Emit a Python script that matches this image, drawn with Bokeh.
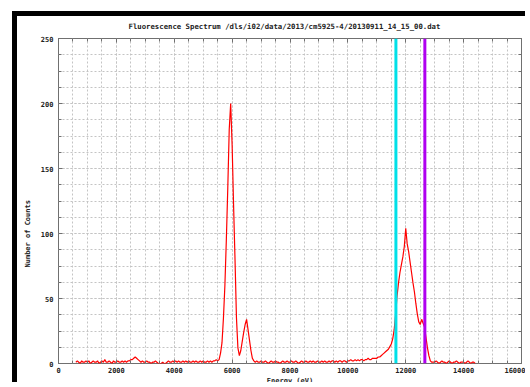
from bokeh.plotting import figure
from bokeh.models import Span, Title, LinearAxis, SingleIntervalTicker, Range1d
from bokeh.embed import file_html
from bokeh.resources import INLINE

TITLE = "Fluorescence Spectrum /dls/i02/data/2013/cm5925-4/20130911_14_15_00.dat"
X_LABEL = "Energy (eV)"
Y_LABEL = "Number of Counts"

# channel energies: start and step (eV)
ENERGY_START = 600
ENERGY_STEP = 50

# counts, one per channel
counts = [
    1, 2, 1, 0, 2, 1, 1, 2,                                              # 600-950
    1, 2, 0, 1, 2, 1, 1, 2, 0, 1, 2, 1, 3, 1, 1, 2, 1, 0, 2, 1,          # 1000-1950
    1, 2, 1, 1, 2, 1, 2, 1, 2, 2, 3, 3, 4, 5, 4, 3, 2, 1, 2, 1,          # 2000-2950
    1, 2, 1, 1, 0, 1, 1, 2, 1, 0, 0, 0, 1, 0, 0, 1, 2, 1, 1, 2,          # 3000-3950
    1, 2, 1, 2, 1, 1, 2, 1, 2, 1, 2, 1, 1, 2, 1, 2, 1, 1, 2, 1,          # 4000-4950
    2, 1, 1, 2, 1, 2, 1, 2, 2, 3,                                        # 5000-5450
    2, 3, 8, 16, 35, 60, 95, 135, 180, 200, 168, 122, 80, 35, 12, 6,     # 5500-6250
    10, 17, 24, 30, 34, 26, 18, 10, 4, 2,                                # 6300-6750
    1, 2, 1, 1,                                                          # 6800-6950
    2, 1, 1, 2, 1, 0, 1, 2, 1, 1, 2, 1, 1, 0, 1, 2, 1, 1, 2, 1,          # 7000-7950
    1, 2, 1, 1, 2, 1, 0, 1, 2, 1, 1, 2, 1, 1, 2, 1, 2, 1, 1, 2,          # 8000-8950
    1, 1, 2, 1, 2, 1, 1, 2, 1, 2, 2, 1, 2, 1, 2, 2, 1, 2, 2, 1,          # 9000-9950
    2, 2, 3, 2, 2, 3, 2, 3, 2, 3, 3, 2, 3, 3, 4, 3, 3, 4, 4, 4,          # 10000-10950
    4, 5, 5, 6, 7, 8, 9, 10, 11, 13, 15, 19, 26, 38, 52, 62, 70, 76, 82, 90,   # 11000-11950
    104, 92, 86, 78, 70, 62, 55, 46, 38, 32, 30, 34, 31, 28, 20, 12, 6, 2, 1, 1,  # 12000-12950
    1, 2, 1, 0, 1, 2, 1, 1, 0, 1, 2, 1, 0, 1, 1, 2, 1, 0, 1, 1,          # 13000-13950
    1, 0, 1, 2, 1, 0, 1, 1, 0,                                           # 14000-14400
]
energy = [ENERGY_START + i * ENERGY_STEP for i in range(len(counts))]

# region-of-interest markers (eV)
roi_low = 11660
roi_high = 12660

X_MIN, X_MAX, X_MAJOR = 0, 16000, 2000
Y_MIN, Y_MAX, Y_MAJOR = 0, 250, 50

FONT = "DejaVu Sans Mono"
TXT = "#222222"
AXC = "#707070"
GRID = "#c4c4c4"

p = figure(width=513, height=371, x_range=Range1d(X_MIN, X_MAX), y_range=Range1d(Y_MIN, Y_MAX),
           output_backend="svg", toolbar_location=None, title=None,
           min_border_left=38, min_border_right=9, min_border_top=22, min_border_bottom=24,
           x_axis_location=None, y_axis_location=None)
# black window frame at the top-left of the picture
p.styles = {"margin-left": "12px", "margin-top": "11px",
            "border-left": "5px solid black", "border-top": "5px solid black"}

p.outline_line_color = AXC
p.background_fill_color = "white"
p.border_fill_color = "white"

xt = SingleIntervalTicker(interval=X_MAJOR, num_minor_ticks=4)
yt = SingleIntervalTicker(interval=Y_MAJOR, num_minor_ticks=4)

def make_axis(ticker, show_labels, label=None, standoff=0):
    ax = LinearAxis(ticker=ticker)
    ax.axis_line_color = None
    ax.major_tick_line_color = AXC
    ax.minor_tick_line_color = AXC
    ax.major_tick_in = 4
    ax.major_tick_out = 0
    ax.minor_tick_in = 3
    ax.minor_tick_out = 0
    ax.major_label_text_font = FONT
    ax.major_label_text_font_style = "bold"
    ax.major_label_text_font_size = "7px"
    ax.major_label_standoff = standoff
    ax.major_label_text_color = TXT if show_labels else None
    if label:
        ax.axis_label = label
        ax.axis_label_text_font = FONT
        ax.axis_label_text_font_size = "7px"
        ax.axis_label_text_font_style = "bold"
        ax.axis_label_text_color = TXT
        ax.axis_label_standoff = 1
    return ax

p.add_layout(make_axis(xt, True, X_LABEL, standoff=3), "below")
p.add_layout(make_axis(yt, True, standoff=5), "left")
p.add_layout(make_axis(xt, False), "above")
p.add_layout(make_axis(yt, False), "right")

# invisible spacer between the top ticks and the title
spacer = LinearAxis(ticker=xt, axis_line_color=None, major_tick_line_color=None,
                    minor_tick_line_color=None, major_label_text_color=None,
                    major_tick_in=0, major_tick_out=6, minor_tick_in=0, minor_tick_out=0,
                    major_label_standoff=0)
p.add_layout(spacer, "above")

p.add_layout(Title(text=TITLE, align="left", offset=70, standoff=3,
                   text_font=FONT, text_font_size="7.3px", text_font_style="bold",
                   text_color=TXT), "above")
p.add_layout(Title(text=Y_LABEL, align="left", offset=96, standoff=10,
                   vertical_align="middle",
                   text_font=FONT, text_font_size="7px", text_font_style="bold",
                   text_color=TXT), "left")

for g in (p.xgrid, p.ygrid):
    g.grid_line_color = GRID
    g.grid_line_dash = "2 2"
    g.minor_grid_line_color = GRID
    g.minor_grid_line_dash = "2 2"
p.xgrid.ticker = xt
p.ygrid.ticker = yt

p.line(energy, counts, line_color="#ff0000", line_width=1.2)

p.add_layout(Span(location=roi_low, dimension="height", line_color="#00e0e8", line_width=3))
p.add_layout(Span(location=roi_high, dimension="height", line_color="#b000f0", line_width=3))

open("out.html", "w").write(file_html(p, INLINE))
